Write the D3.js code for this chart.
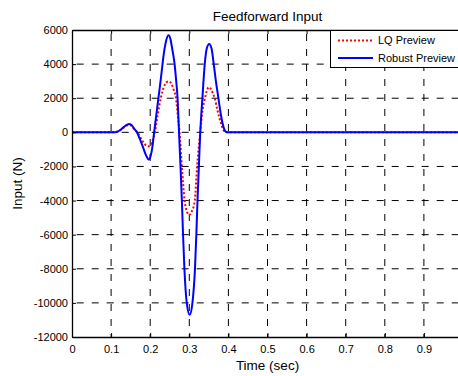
<!DOCTYPE html>
<html>
<head>
<meta charset="utf-8">
<script src="https://cdn.jsdelivr.net/npm/d3@7"></script>
<style>
  html, body { margin: 0; padding: 0; background: #fff; }
  #chart { display: block; overflow: hidden; }
  text { font-family: "Liberation Sans", Arial, sans-serif; fill: #000; }
</style>
</head>
<body>
<svg id="chart" width="458" height="376"></svg>
<script>
  // ==================
  // Data
  // ==================
  const lqTime = [0, 0.10, 0.11, 0.118, 0.126, 0.134, 0.140, 0.146, 0.152, 0.158, 0.167, 0.175, 0.183, 0.190,
    0.197, 0.204, 0.212, 0.219, 0.227, 0.234, 0.241, 0.247, 0.253, 0.260, 0.266, 0.2705, 0.275, 0.281, 0.288,
    0.294, 0.300, 0.306, 0.314, 0.320, 0.328, 0.334, 0.340, 0.345, 0.3495, 0.355, 0.360, 0.365, 0.372, 0.380,
    0.386, 0.392, 1.0];
  const lqInput = [0, 0, 10, 55, 165, 310, 400, 430, 380, 220, 0, -300, -600, -780,
    -820, -600, 0, 1000, 2000, 2600, 2920, 2990, 2900, 2500, 2000, 1000, 0, -2000, -4000,
    -4650, -4850, -4650, -4000, -2000, 0, 1300, 2000, 2450, 2640, 2550, 2300, 2000, 1300, 600,
    200, 0, 0];

  const robustTime = [0, 0.10, 0.11, 0.118, 0.126, 0.134, 0.140, 0.146, 0.152, 0.158, 0.166, 0.174, 0.182, 0.190,
    0.196, 0.201, 0.206, 0.210, 0.2155, 0.221, 0.2265, 0.2315, 0.236, 0.241, 0.247, 0.252, 0.257, 0.2624,
    0.2665, 0.270, 0.2737, 0.2775, 0.281, 0.284, 0.2875, 0.2935, 0.301, 0.308, 0.3145, 0.318, 0.321, 0.3245,
    0.328, 0.3335, 0.3395, 0.3445, 0.351, 0.357, 0.3625, 0.368, 0.3745, 0.381, 0.387, 0.392, 0.397, 1.0];
  const robustInput = [0, 0, 10, 60, 180, 340, 440, 485, 430, 250, 0, -420, -900, -1380,
    -1590, -1400, -800, 0, 1000, 2000, 3000, 4000, 4800, 5400, 5690, 5450, 4800, 4000,
    3000, 2000, 0, -2000, -4000, -6000, -8000, -10000, -10700, -10000, -8000, -6000, -4000, -2000,
    0, 2000, 4000, 4900, 5180, 4900, 4000, 3000, 2000, 1000, 350, 60, 0, 0];

  // the figure is cropped just before x = 1, so that tick carries no label
  const xTicks = [0, 0.1, 0.2, 0.3, 0.4, 0.5, 0.6, 0.7, 0.8, 0.9, 1];
  const xTickLabels = ['0', '0.1', '0.2', '0.3', '0.4', '0.5', '0.6', '0.7', '0.8', '0.9', ''];
  const yTicks = [-12000, -10000, -8000, -6000, -4000, -2000, 0, 2000, 4000, 6000];
  const seriesNames = ['LQ Preview', 'Robust Preview'];

  // ==================
  // Layout
  // ==================
  const MARGIN_LEFT = 72;
  const MARGIN_TOP = 30;
  const PLOT_WIDTH = 391;
  const PLOT_HEIGHT = 307;
  const TICK_LEN = 4;

  const svg = d3.select('#chart');

  const xScale = d3.scaleLinear().domain([0, 1]).range([0, PLOT_WIDTH]);
  const yScale = d3.scaleLinear().domain([-12000, 6000]).range([PLOT_HEIGHT, 0]);

  const plot = svg.append('g')
    .attr('transform', `translate(${MARGIN_LEFT}, ${MARGIN_TOP})`);

  // grid
  plot.append('g').selectAll('line.hgrid')
    .data(yTicks.slice(1, -1))
    .join('line')
    .attr('x1', 0).attr('x2', PLOT_WIDTH)
    .attr('y1', d => yScale(d)).attr('y2', d => yScale(d))
    .attr('stroke', '#000')
    .attr('stroke-width', 1)
    .attr('stroke-dasharray', '7,8')
    .attr('stroke-dashoffset', 10.3);

  plot.append('g').selectAll('line.vgrid')
    .data(xTicks.slice(1, -1))
    .join('line')
    .attr('x1', d => xScale(d)).attr('x2', d => xScale(d))
    .attr('y1', PLOT_HEIGHT).attr('y2', 0)
    .attr('stroke', '#000')
    .attr('stroke-width', 1)
    .attr('stroke-dasharray', '7,8')
    .attr('stroke-dashoffset', 4);

  // lines
  const lineGen = d3.line()
    .x(d => xScale(d[0]))
    .y(d => yScale(d[1]))
    .curve(d3.curveMonotoneX);

  plot.append('path')
    .attr('d', lineGen(d3.zip(lqTime, lqInput)))
    .attr('fill', 'none')
    .attr('stroke', '#ff0000')
    .attr('stroke-width', 2)
    .attr('stroke-dasharray', '2,2');

  plot.append('path')
    .attr('d', lineGen(d3.zip(robustTime, robustInput)))
    .attr('fill', 'none')
    .attr('stroke', '#0000ff')
    .attr('stroke-width', 2);

  // axes (MATLAB style, ticks pointing inwards)
  const xAxis = d3.axisBottom(xScale).tickValues(xTicks).tickSizeInner(-TICK_LEN).tickSizeOuter(0)
    .tickPadding(8).tickFormat((d, i) => xTickLabels[i]);
  const yAxis = d3.axisLeft(yScale).tickValues(yTicks).tickSizeInner(-TICK_LEN).tickSizeOuter(0)
    .tickPadding(4).tickFormat(d => String(d));

  const xAxisGroup = plot.append('g')
    .attr('transform', `translate(0, ${PLOT_HEIGHT})`)
    .call(xAxis);
  const yAxisGroup = plot.append('g').call(yAxis);

  plot.append('g').call(d3.axisTop(xScale).tickValues(xTicks).tickSizeInner(-TICK_LEN).tickSizeOuter(0).tickFormat(''));
  plot.append('g').attr('transform', `translate(${PLOT_WIDTH}, 0)`)
    .call(d3.axisRight(yScale).tickValues(yTicks).tickSizeInner(-TICK_LEN).tickSizeOuter(0).tickFormat(''));

  plot.selectAll('.domain').attr('stroke', '#000').attr('stroke-width', 1.3);
  plot.selectAll('.tick line').attr('stroke', '#000');
  plot.selectAll('.tick text')
    .style('font-size', '11px')
    .style('font-family', '"Liberation Sans", Arial, sans-serif');
  xAxisGroup.selectAll('.tick text').attr('dy', '0.71em').attr('y', 8);
  yAxisGroup.selectAll('.tick text').attr('x', -4);

  // legend
  const legend = svg.append('g').attr('transform', 'translate(330.5, 30.5)');
  legend.append('rect')
    .attr('width', 150).attr('height', 37)
    .attr('fill', '#fff').attr('stroke', '#000').attr('stroke-width', 1);

  const legendItems = legend.selectAll('g.item')
    .data(seriesNames)
    .join('g')
    .attr('transform', (d, i) => `translate(0, ${10 + i * 17.5})`);

  legendItems.append('line')
    .attr('x1', 7.5).attr('x2', 42.5)
    .attr('stroke', (d, i) => i === 0 ? '#ff0000' : '#0000ff')
    .attr('stroke-width', 2)
    .attr('stroke-dasharray', (d, i) => i === 0 ? '2,2' : null);

  legendItems.append('text')
    .attr('x', 47.5).attr('y', 3.8)
    .style('font-size', '11px')
    .text(d => d);

  // titles
  svg.append('text')
    .attr('x', MARGIN_LEFT + PLOT_WIDTH / 2).attr('y', 21)
    .attr('text-anchor', 'middle')
    .style('font-size', '13.5px')
    .text('Feedforward Input');

  svg.append('text')
    .attr('x', MARGIN_LEFT + PLOT_WIDTH / 2).attr('y', 370)
    .attr('text-anchor', 'middle')
    .style('font-size', '13.5px')
    .text('Time (sec)');

  svg.append('text')
    .attr('transform', `translate(22, ${MARGIN_TOP + PLOT_HEIGHT / 2}) rotate(-90)`)
    .attr('text-anchor', 'middle')
    .style('font-size', '13.5px')
    .text('Input (N)');
</script>
</body>
</html>
